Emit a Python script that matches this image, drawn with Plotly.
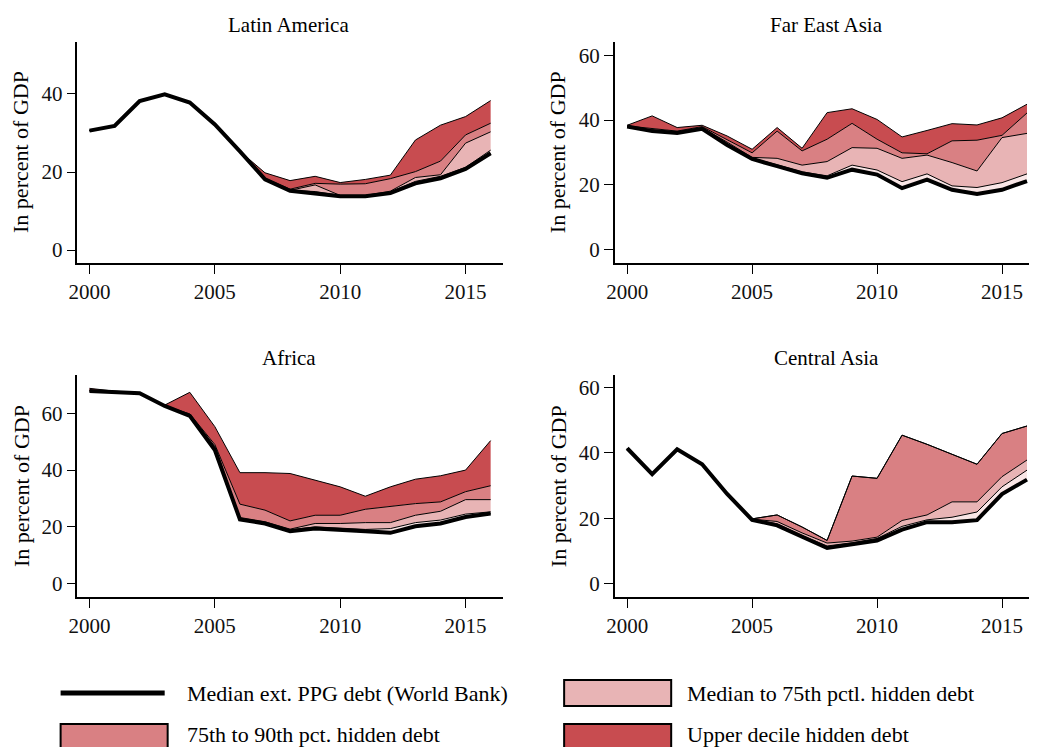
import plotly.graph_objects as go

years = list(range(2000, 2017))

# Latin America
la_base = [30.6, 31.8, 38.2, 39.9, 37.8, 32.2, 25.3, 18.1, 15.2, 14.6, 13.8, 13.8, 14.6, 17.1, 18.4, 20.8, 24.8]
la_med = [30.6, 31.8, 38.2, 39.9, 37.8, 32.2, 25.3, 18.2, 15.3, 15.0, 14.0, 14.0, 14.9, 17.6, 18.9, 21.2, 25.6]
la_p75 = [30.6, 31.8, 38.2, 39.9, 37.8, 32.2, 25.3, 18.2, 15.3, 16.7, 14.0, 14.0, 15.1, 18.6, 19.3, 27.4, 30.3]
la_p90 = [30.6, 31.8, 38.2, 39.9, 37.8, 32.2, 25.3, 18.4, 15.6, 17.1, 16.9, 17.0, 18.3, 20.1, 22.8, 29.5, 32.5]
la_top = [30.6, 31.8, 38.2, 39.9, 37.8, 32.2, 25.3, 19.8, 17.8, 18.9, 17.3, 18.1, 19.2, 28.2, 32.0, 34.2, 38.3]

# Far East Asia
fe_base = [38.0, 36.6, 36.0, 37.3, 32.3, 28.0, 25.8, 23.6, 22.2, 24.7, 23.2, 19.0, 21.6, 18.5, 17.2, 18.5, 21.2]
fe_med = [38.0, 36.7, 36.1, 37.4, 32.6, 28.3, 26.2, 24.0, 22.8, 26.1, 24.6, 21.0, 23.4, 19.7, 19.2, 20.7, 23.4]
fe_p75 = [38.1, 36.8, 36.3, 37.6, 33.2, 28.5, 28.2, 26.1, 27.2, 31.5, 31.3, 28.2, 29.2, 26.9, 24.3, 34.6, 35.9]
fe_p90 = [38.2, 37.3, 36.6, 38.0, 34.0, 29.9, 36.6, 30.5, 34.1, 39.0, 34.1, 29.9, 29.6, 33.6, 33.8, 35.3, 42.2]
fe_top = [38.4, 41.3, 37.7, 38.4, 35.1, 31.0, 37.7, 31.3, 42.3, 43.5, 40.2, 34.8, 36.8, 38.9, 38.5, 40.7, 44.9]

# Africa
af_base = [67.9, 67.6, 67.1, 62.6, 59.1, 47.1, 22.6, 21.2, 18.5, 19.4, 19.1, 18.5, 17.9, 20.2, 21.2, 23.5, 24.7]
af_med = [67.9, 67.6, 67.1, 62.6, 59.3, 47.8, 23.0, 21.5, 19.0, 20.0, 19.6, 19.1, 19.4, 21.5, 22.4, 24.5, 25.3]
af_p75 = [67.9, 67.6, 67.1, 62.6, 59.5, 48.3, 23.3, 21.8, 19.2, 21.2, 21.2, 21.5, 21.5, 24.1, 25.5, 29.6, 29.6]
af_p90 = [68.0, 67.7, 67.2, 62.6, 59.8, 49.0, 28.0, 25.9, 22.1, 24.1, 24.1, 26.2, 27.3, 28.2, 28.8, 32.4, 34.5]
af_top = [68.8, 67.8, 67.3, 62.9, 67.4, 55.3, 39.1, 39.1, 38.8, 36.5, 34.1, 30.8, 34.1, 36.8, 38.0, 40.0, 50.4]

# Central Asia
ca_base = [41.4, 33.5, 41.1, 36.5, 27.4, 19.5, 17.8, 14.2, 10.9, 12.0, 13.2, 16.5, 18.8, 18.8, 19.4, 27.4, 31.8]
ca_med = [41.4, 33.5, 41.1, 36.5, 27.4, 19.6, 18.3, 14.7, 11.5, 12.5, 13.8, 17.5, 19.5, 20.3, 21.9, 29.6, 34.7]
ca_p75 = [41.4, 33.5, 41.1, 36.5, 27.4, 19.7, 19.0, 15.5, 12.4, 13.0, 14.2, 19.3, 21.0, 25.0, 25.0, 32.7, 37.8]
ca_p90 = [41.4, 33.5, 41.1, 36.5, 27.4, 19.8, 21.0, 17.3, 13.2, 32.9, 32.2, 45.4, 42.6, 39.6, 36.5, 45.9, 48.2]
ca_top = ca_p90

C_MED = '#f9e6e6'
C_P75 = '#e8b4b5'
C_P90 = '#d98083'
C_TOP = '#c84c50'
FONT = 'Liberation Serif'

# where the plot lands in the browser window (measured from earlier renders)
OFF_X, OFF_Y = 16, 8
W, H = 1037 - OFF_X, 747 - OFF_Y


def px(x):
    return (x - OFF_X) / W


def py(y):
    return 1 - (y - OFF_Y) / H


panels = [
    ('Latin America', la_base, la_med, la_p75, la_p90, la_top, 'x', 'y'),
    ('Far East Asia', fe_base, fe_med, fe_p75, fe_p90, fe_top, 'x2', 'y2'),
    ('Africa', af_base, af_med, af_p75, af_p90, af_top, 'x3', 'y3'),
    ('Central Asia', ca_base, ca_med, ca_p75, ca_p90, ca_top, 'x4', 'y4'),
]

fig = go.Figure()
for name, base, med, p75, p90, top, xa, ya in panels:
    fig.add_trace(go.Scatter(x=years, y=base, mode='lines', xaxis=xa, yaxis=ya,
                             line=dict(color='black', width=1), showlegend=False))
    for vals, col in [(med, C_MED), (p75, C_P75), (p90, C_P90), (top, C_TOP)]:
        fig.add_trace(go.Scatter(x=years, y=vals, mode='lines', xaxis=xa, yaxis=ya,
                                 fill='tonexty', fillcolor=col,
                                 line=dict(color='black', width=1), showlegend=False))
    fig.add_trace(go.Scatter(x=years, y=base, mode='lines', xaxis=xa, yaxis=ya,
                             line=dict(color='black', width=4), showlegend=False))

axis_common = dict(showline=True, linecolor='black', linewidth=1.5, ticks='outside',
                   ticklen=9, tickwidth=1.2, tickcolor='black', showgrid=False,
                   zeroline=False, tickfont=dict(family=FONT, size=21, color='#111'))

xl = [px(77), px(506)]
xr = [px(619), 1.0]
yt = [py(263), py(42)]
yb = [py(597), py(375)]

fig.update_layout(
    width=W, height=H,
    margin=dict(l=0, r=0, t=0, b=0),
    paper_bgcolor='white', plot_bgcolor='white',
    showlegend=False,
    xaxis=dict(domain=xl, anchor='y', range=[1999.52, 2016.48], tickvals=[2000, 2005, 2010, 2015], **axis_common),
    yaxis=dict(domain=yt, anchor='x', range=[-3.3, 53.3], tickvals=[0, 20, 40], **axis_common),
    xaxis2=dict(domain=xr, anchor='y2', range=[1999.5, 2016.08], tickvals=[2000, 2005, 2010, 2015], **axis_common),
    yaxis2=dict(domain=yt, anchor='x2', range=[-4.1, 64.1], tickvals=[0, 20, 40, 60], **axis_common),
    xaxis3=dict(domain=xl, anchor='y3', range=[1999.52, 2016.48], tickvals=[2000, 2005, 2010, 2015], **axis_common),
    yaxis3=dict(domain=yb, anchor='x3', range=[-4.7, 73.5], tickvals=[0, 20, 40, 60], **axis_common),
    xaxis4=dict(domain=xr, anchor='y4', range=[1999.5, 2016.08], tickvals=[2000, 2005, 2010, 2015], **axis_common),
    yaxis4=dict(domain=yb, anchor='x4', range=[-4.1, 63.8], tickvals=[0, 20, 40, 60], **axis_common),
)

# panel titles and y-axis titles
title_pos = [(290, 25), (833, 25), (290, 358), (833, 358)]
ytitle_pos = [(20, 152), (562, 152), (20, 486), (562, 486)]
for (name, *_), (tx, ty), (yx, yy) in zip(panels, title_pos, ytitle_pos):
    fig.add_annotation(x=px(tx), y=py(ty), xref='paper', yref='paper', text=name,
                       xanchor='center', yanchor='middle', showarrow=False,
                       font=dict(family=FONT, size=21, color='black'))
    fig.add_annotation(x=px(yx), y=py(yy), xref='paper', yref='paper', text='In percent of GDP',
                       xanchor='center', yanchor='middle', textangle=-90, showarrow=False,
                       font=dict(family=FONT, size=22, color='black'))

# legend drawn by hand to match the boxed keys
fig.add_shape(type='line', xref='paper', yref='paper', x0=px(60), x1=px(165), y0=py(693), y1=py(693),
              line=dict(color='black', width=5))
boxes = [(568, 680, C_P75), (60, 724, C_P90), (568, 724, C_TOP)]
for bx, by, col in boxes:
    fig.add_shape(type='rect', xref='paper', yref='paper', x0=px(bx), x1=px(bx + 108),
                  y0=py(by), y1=py(by + 26), fillcolor=col, line=dict(color='black', width=2))

legend_text = [
    (185, 693, 'Median ext. PPG debt (World Bank)'),
    (690, 693, 'Median to 75th pctl. hidden debt'),
    (185, 734, '75th to 90th pct. hidden debt'),
    (690, 734, 'Upper decile hidden debt'),
]
for lx, ly, txt in legend_text:
    fig.add_annotation(x=px(lx), y=py(ly), xref='paper', yref='paper', text=txt, showarrow=False,
                       xanchor='left', yanchor='middle', font=dict(family=FONT, size=22, color='black'))

fig.write_html("out.html")
